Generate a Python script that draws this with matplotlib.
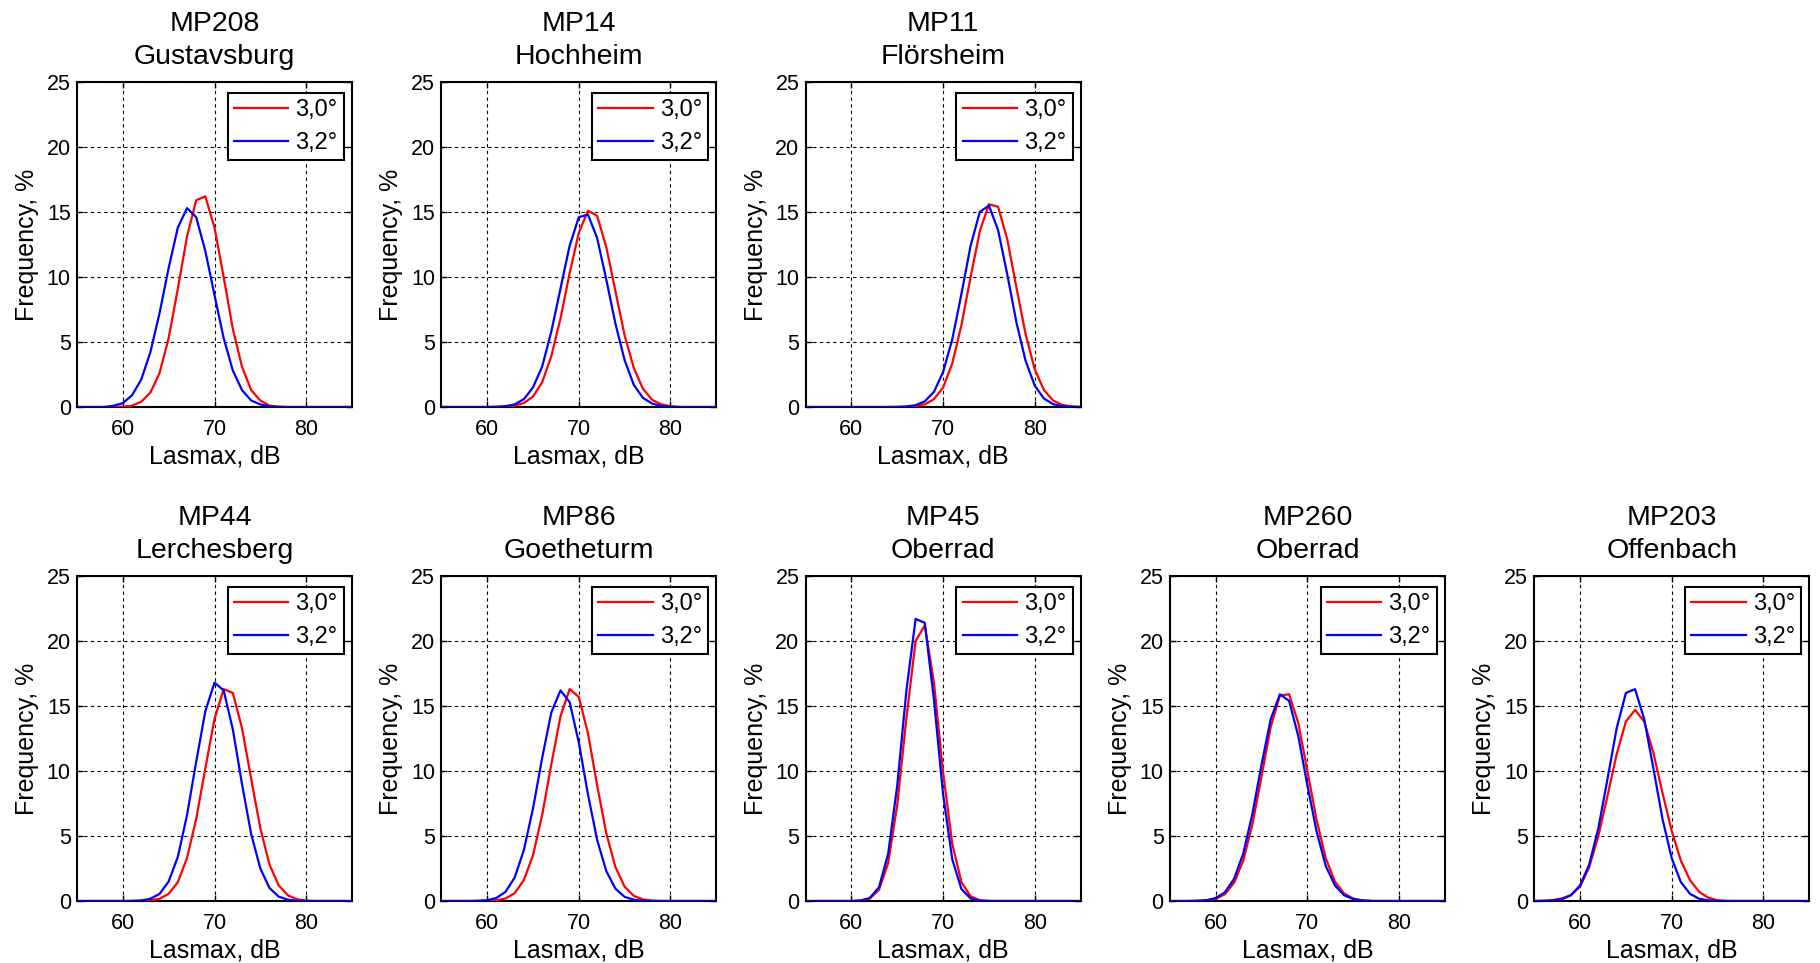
import numpy as np
import matplotlib
matplotlib.use("Agg")
import matplotlib.pyplot as plt

plt.rcParams['font.family'] = ['Liberation Sans', 'DejaVu Sans']

# Lasmax bins, 1 dB
lasmax_db = np.arange(55, 86)

# frequency in %, 3,0 deg (red) and 3,2 deg (blue), values at 55..85 dB
mp208_30 = [0, 0, 0, 0, 0, 0.03, 0.1, 0.4, 1.1, 2.6, 5.3, 9.1, 13.1, 15.9, 16.2, 13.8, 10.0, 6.0, 3.1, 1.3, 0.5, 0.1, 0.03, 0, 0, 0, 0, 0, 0, 0, 0]
mp208_32 = [0, 0, 0, 0, 0.1, 0.3, 0.9, 2.1, 4.2, 7.2, 10.7, 13.8, 15.3, 14.6, 12.0, 8.6, 5.3, 2.8, 1.3, 0.5, 0.2, 0.05, 0, 0, 0, 0, 0, 0, 0, 0, 0]
mp14_30 = [0, 0, 0, 0, 0, 0, 0, 0.03, 0.1, 0.3, 0.8, 1.9, 3.9, 6.8, 10.3, 13.4, 15.1, 14.7, 12.3, 8.9, 5.5, 3.0, 1.4, 0.55, 0.2, 0.06, 0, 0, 0, 0, 0]
mp14_32 = [0, 0, 0, 0, 0, 0, 0.02, 0.06, 0.2, 0.6, 1.5, 3.1, 5.8, 9.1, 12.4, 14.6, 14.8, 13.0, 9.8, 6.4, 3.6, 1.7, 0.7, 0.26, 0.08, 0.02, 0, 0, 0, 0, 0]
mp11_30 = [0, 0, 0, 0, 0, 0, 0, 0, 0, 0, 0, 0.01, 0.06, 0.2, 0.6, 1.5, 3.35, 6.3, 10.0, 13.5, 15.6, 15.4, 12.9, 9.2, 5.6, 2.9, 1.3, 0.5, 0.16, 0.04, 0.01]
mp11_32 = [0, 0, 0, 0, 0, 0, 0, 0, 0, 0, 0.01, 0.04, 0.14, 0.43, 1.16, 2.7, 5.2, 8.7, 12.4, 15.0, 15.5, 13.6, 10.2, 6.5, 3.55, 1.64, 0.65, 0.22, 0.06, 0.02, 0]
mp44_30 = [0, 0, 0, 0, 0, 0, 0, 0.01, 0.05, 0.17, 0.55, 1.45, 3.3, 6.3, 10.2, 14.0, 16.3, 16.0, 13.3, 9.4, 5.6, 2.8, 1.2, 0.44, 0.13, 0.03, 0, 0, 0, 0, 0]
mp44_32 = [0, 0, 0, 0, 0, 0, 0.01, 0.04, 0.17, 0.54, 1.5, 3.4, 6.6, 10.7, 14.6, 16.8, 16.2, 13.2, 9.0, 5.15, 2.5, 1.0, 0.34, 0.1, 0.02, 0, 0, 0, 0, 0, 0]
mp86_30 = [0, 0, 0, 0, 0, 0.01, 0.05, 0.19, 0.6, 1.6, 3.5, 6.6, 10.5, 14.2, 16.3, 15.7, 12.9, 8.9, 5.2, 2.6, 1.1, 0.39, 0.12, 0.03, 0, 0, 0, 0, 0, 0, 0]
mp86_32 = [0, 0, 0, 0, 0.02, 0.06, 0.23, 0.7, 1.8, 3.9, 7.1, 11.0, 14.5, 16.2, 15.3, 12.2, 8.2, 4.7, 2.3, 0.94, 0.32, 0.1, 0.02, 0, 0, 0, 0, 0, 0, 0, 0]
mp45_30 = [0, 0, 0, 0, 0, 0, 0.03, 0.19, 0.85, 2.9, 7.4, 14.1, 20.0, 21.2, 16.8, 9.9, 4.4, 1.45, 0.36, 0.06, 0.01, 0, 0, 0, 0, 0, 0, 0, 0, 0, 0]
mp45_32 = [0, 0, 0, 0, 0, 0, 0.04, 0.23, 1.05, 3.6, 8.9, 16.2, 21.7, 21.4, 15.5, 8.2, 3.2, 0.92, 0.19, 0.03, 0, 0, 0, 0, 0, 0, 0, 0, 0, 0, 0]
mp260_30 = [0, 0, 0, 0.01, 0.05, 0.17, 0.52, 1.4, 3.1, 5.9, 9.6, 13.4, 15.8, 15.9, 13.7, 10.0, 6.25, 3.3, 1.5, 0.58, 0.19, 0.05, 0.01, 0, 0, 0, 0, 0, 0, 0, 0]
mp260_32 = [0, 0, 0, 0.02, 0.06, 0.23, 0.67, 1.7, 3.65, 6.7, 10.5, 14.0, 15.9, 15.4, 12.7, 8.9, 5.35, 2.7, 1.2, 0.44, 0.14, 0.04, 0, 0, 0, 0, 0, 0, 0, 0, 0]
mp203_30 = [0, 0.02, 0.07, 0.2, 0.45, 1.1, 2.6, 5.0, 8.1, 11.3, 13.8, 14.7, 13.8, 11.4, 8.3, 5.4, 3.1, 1.6, 0.7, 0.25, 0.06, 0.01, 0, 0, 0, 0, 0, 0, 0, 0, 0]
mp203_32 = [0, 0.01, 0.03, 0.13, 0.44, 1.2, 2.8, 5.6, 9.4, 13.3, 16.0, 16.3, 14.0, 10.2, 6.3, 3.3, 1.45, 0.55, 0.17, 0.05, 0, 0, 0, 0, 0, 0, 0, 0, 0, 0, 0]

top_titles = ["MP208\nGustavsburg", "MP14\nHochheim", "MP11\nFlörsheim"]
bottom_titles = ["MP44\nLerchesberg", "MP86\nGoetheturm", "MP45\nOberrad",
                 "MP260\nOberrad", "MP203\nOffenbach"]
top_data = [(mp208_30, mp208_32), (mp14_30, mp14_32), (mp11_30, mp11_32)]
bottom_data = [(mp44_30, mp44_32), (mp86_30, mp86_32), (mp45_30, mp45_32),
               (mp260_30, mp260_32), (mp203_30, mp203_32)]

W, H = 1820, 963
fig = plt.figure(figsize=(W / 100, H / 100), dpi=100)

pitch = 364.3
aw, ah = 275, 325


def draw_panel(ax, title, f30, f32):
    ax.plot(lasmax_db, f30, color=(1, 0, 0), lw=1.6, label="3,0°", zorder=3)
    ax.plot(lasmax_db, f32, color=(0, 0, 1), lw=1.6, label="3,2°", zorder=3)
    ax.set_xlim(55, 85)
    ax.set_ylim(0, 25)
    ax.set_xticks([60, 70, 80])
    ax.set_yticks([0, 5, 10, 15, 20, 25])
    ax.grid(True, color="black", linestyle=(0, (3, 3)), linewidth=0.8)
    ax.tick_params(direction="in", top=True, right=True, labelsize=15.5,
                   length=4, width=1)
    ax.tick_params(axis="x", pad=8.5)
    ax.tick_params(axis="y", pad=4.5)
    for s in ax.spines.values():
        s.set_linewidth(1.5)
    ax.set_xlabel("Lasmax, dB", fontsize=18, labelpad=3.5)
    ax.set_ylabel("Frequency, %", fontsize=18, labelpad=5.5)
    ax.set_title(title, fontsize=20.5, pad=13, linespacing=1.35)
    leg = ax.legend(loc="upper right", fontsize=17, fancybox=False,
                    edgecolor="black", framealpha=1, handlelength=2.3,
                    bbox_to_anchor=(1 - 8 / aw, 1 - 11 / ah),
                    borderaxespad=0, borderpad=0.27, labelspacing=0.45,
                    handletextpad=0.3)
    leg.get_frame().set_linewidth(1.5)


for i, (t, d) in enumerate(zip(top_titles, top_data)):
    ax = fig.add_axes([(77 + i * pitch) / W, (H - 407) / H, aw / W, ah / H])
    draw_panel(ax, t, *d)
for i, (t, d) in enumerate(zip(bottom_titles, bottom_data)):
    ax = fig.add_axes([(77 + i * pitch) / W, (H - 901) / H, aw / W, ah / H])
    draw_panel(ax, t, *d)

fig.savefig("out.png", dpi=100)
